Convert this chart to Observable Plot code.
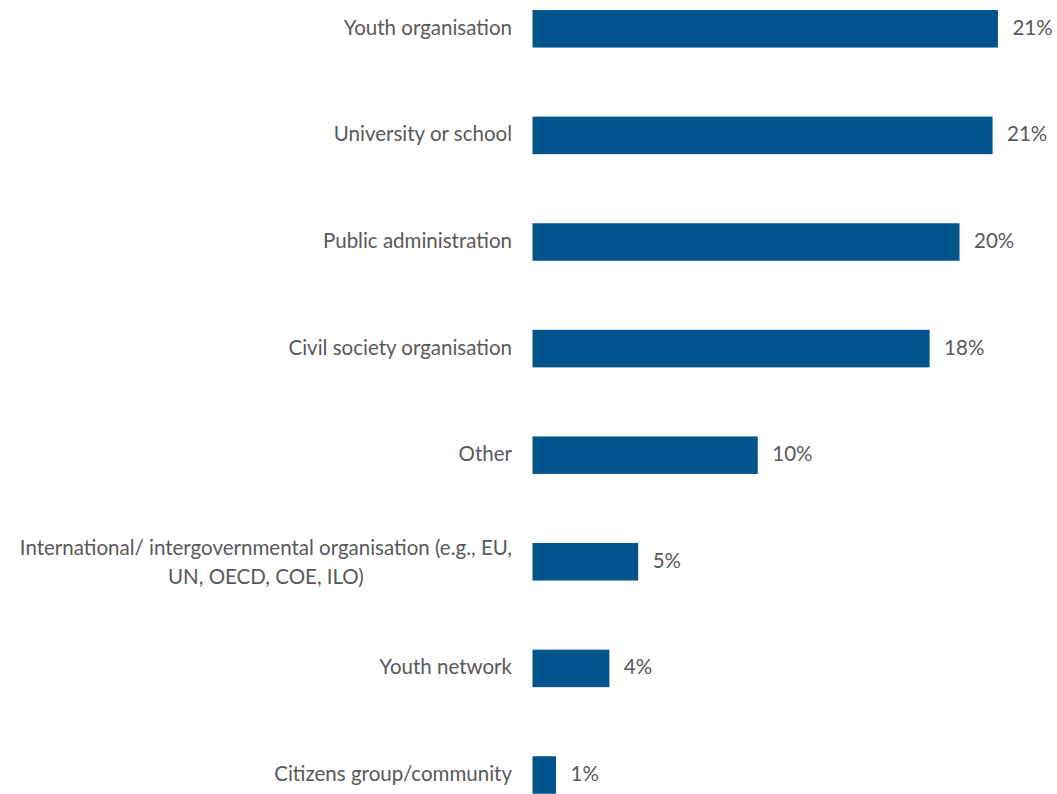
<!DOCTYPE html>
<html>
<head>
<meta charset="utf-8">
<script src="https://cdn.jsdelivr.net/npm/d3@7"></script>
<script src="https://cdn.jsdelivr.net/npm/@observablehq/plot@0.6"></script>
<style>
  html, body { margin: 0; padding: 0; background: #fff; }
  #chart svg { display: block; }
</style>
</head>
<body>
<div id="chart"></div>
<script>
const categories = [
  "Youth organisation",
  "University or school",
  "Public administration",
  "Civil society organisation",
  "Other",
  "International/ intergovernmental organisation (e.g., EU,\nUN, OECD, COE, ILO)",
  "Youth network",
  "Citizens group/community"
];
const values = [21.8, 21.55, 20.0, 18.6, 10.55, 4.95, 3.6, 1.1];
const valueLabels = ["21%", "21%", "20%", "18%", "10%", "5%", "4%", "1%"];

const data = categories.map((c, i) => ({category: c, value: values[i], label: valueLabels[i]}));

const FONT = "Lato, 'Open Sans', sans-serif";
const FS = 20.5;
const TEXT = "#595959";

const ctx = document.createElement("canvas").getContext("2d");
ctx.font = `${FS}px Lato`;
const lineW = s => Math.max(...s.split("\n").map(l => ctx.measureText(l).width));

const single = data.filter(d => !d.category.includes("\n"));
const multi = data.filter(d => d.category.includes("\n"));
const multiW = multi.length ? lineW(multi[0].category) : 0;

const chart = Plot.plot({
  width: 1057,
  height: 794,
  margin: 0,
  style: {fontFamily: FONT, fontSize: FS + "px", background: "#fff"},
  x: {domain: [0, 24], range: [532.5, 532.5 + 24 * 21.35], axis: null},
  y: {domain: categories, range: [-24.5, 828.3], paddingInner: 0.648, paddingOuter: 0.324, round: false, axis: null},
  marks: [
    Plot.barX(data, {x: "value", y: "category", fill: "#02558c"}),
    Plot.text(data, {x: "value", y: "category", text: "label", textAnchor: "start", dx: 14, dy: -1, fill: TEXT, fontSize: FS}),
    Plot.text(single, {x: 0, y: "category", text: "category", textAnchor: "end", dx: -21, dy: -1, fill: TEXT, fontSize: FS}),
    Plot.text(multi, {x: 0, y: "category", text: "category", textAnchor: "middle", dx: -21 - multiW / 2, dy: -2, lineHeight: 1.4, fill: TEXT, fontSize: FS})
  ]
});
document.getElementById("chart").appendChild(chart);
</script>
</body>
</html>
